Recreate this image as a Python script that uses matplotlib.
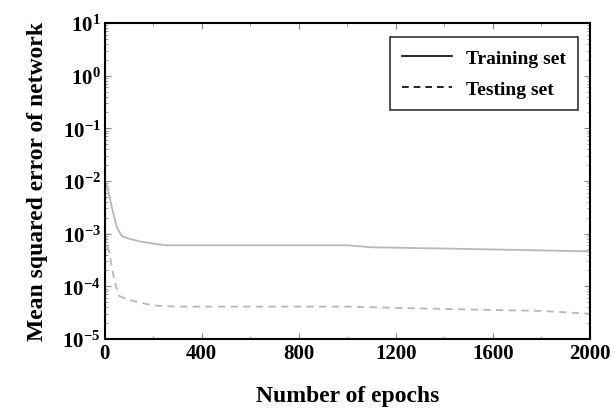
import matplotlib
matplotlib.use("Agg")
import matplotlib.pyplot as plt
from matplotlib.ticker import LogLocator, NullFormatter, MultipleLocator

plt.rcParams['font.family'] = ['Liberation Serif', 'DejaVu Serif']
plt.rcParams['font.weight'] = 'bold'
plt.rcParams['mathtext.fontset'] = 'custom'
plt.rcParams['mathtext.rm'] = 'Liberation Serif:bold'
plt.rcParams['mathtext.bf'] = 'Liberation Serif:bold'
plt.rcParams['mathtext.it'] = 'Liberation Serif:bold'

train_epochs = [0, 10, 30, 50, 70, 100, 150, 250, 600, 1000, 1100, 1400, 1700, 2000]
train_mse = [1e-2, 8e-3, 3e-3, 1.3e-3, 9e-4, 8e-4, 7e-4, 6e-4, 6e-4, 6e-4, 5.5e-4, 5.2e-4, 4.9e-4, 4.6e-4]
test_epochs = [0, 20, 40, 60, 100, 200, 300, 1000, 1400, 1800, 2000]
test_mse = [1e-3, 4e-4, 1.2e-4, 6.5e-5, 5.5e-5, 4.3e-5, 4.1e-5, 4.1e-5, 3.7e-5, 3.4e-5, 3.0e-5]
x_ticks = [0, 400, 800, 1200, 1600, 2000]
y_exps = [1, 0, -1, -2, -3, -4, -5]

fig = plt.figure(figsize=(6.13, 4.14), dpi=100)
ax = fig.add_axes([0.171, 0.179, 0.791, 0.763])

ax.plot(train_epochs, train_mse, color='#b8b8b8', lw=1.3, linestyle='-')
ax.plot(test_epochs, test_mse, color='#b8b8b8', lw=1.3, linestyle='--', dashes=(4, 3))
ax.plot([], [], color='black', lw=1.2, linestyle='-', label='Training set')
ax.plot([], [], color='black', lw=1.2, linestyle='--', dashes=(4, 3), label='Testing set')

ax.set_yscale('log')
ax.set_xlim(0, 2000)
ax.set_ylim(1e-5, 1e1)
ax.set_xticks(x_ticks)
ax.set_xticklabels([str(t) for t in x_ticks], fontsize=15, fontweight='bold')
ax.xaxis.set_minor_locator(MultipleLocator(200))
ax.set_yticks([10.0**e for e in y_exps])
ax.set_yticklabels([r'$10^{%d}$' % e for e in y_exps], fontsize=15)
ax.yaxis.set_minor_locator(LogLocator(base=10, subs=range(2, 10), numticks=20))
ax.yaxis.set_minor_formatter(NullFormatter())
ax.tick_params(which='both', direction='in', top=True, right=True, color='#888888')
ax.tick_params(which='major', length=4, pad=3)
ax.tick_params(which='minor', length=2)
for s in ax.spines.values():
    s.set_linewidth(1.5)

ax.set_xlabel('Number of epochs', fontsize=17, fontweight='bold', labelpad=16)
ax.set_ylabel('Mean squared error of network', fontsize=17, fontweight='bold', labelpad=10)

leg = ax.legend(loc='upper right', fontsize=14, frameon=True, fancybox=False,
                edgecolor='black', handlelength=2.6, borderpad=0.6, labelspacing=0.7,
                handletextpad=0.7, bbox_to_anchor=(0.995, 0.985))
leg.get_frame().set_linewidth(1.2)

fig.savefig('out.png', dpi=100)
